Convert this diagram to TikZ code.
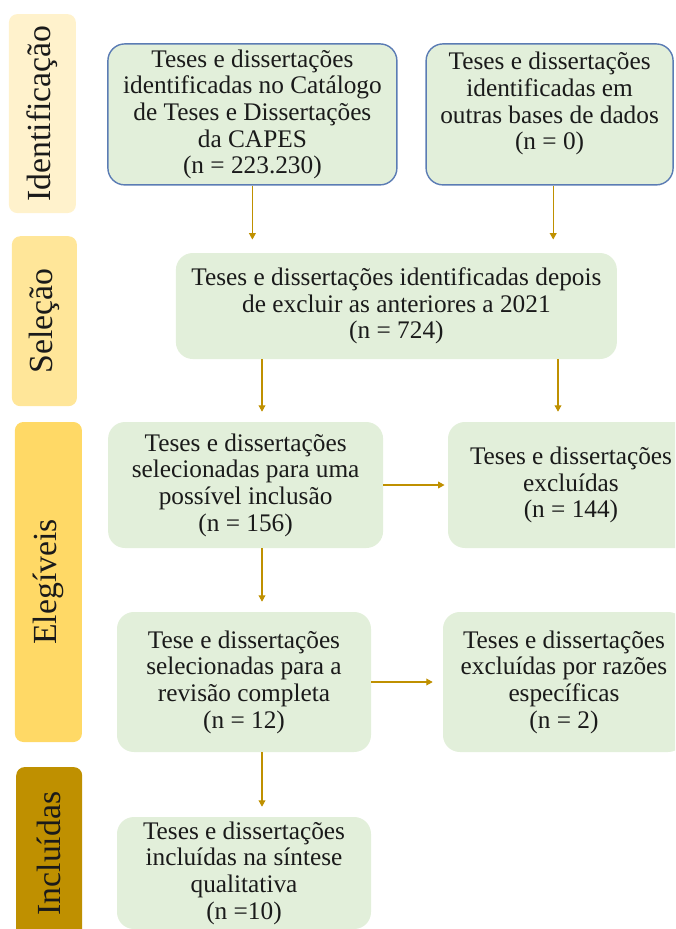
\documentclass[tikz,border=0pt]{standalone}
\usepackage{fontspec}
\setmainfont{Liberation Serif}
\usepackage{xcolor}
\usetikzlibrary{arrows.meta,calc,positioning}
\definecolor{BoxGreen}{HTML}{E2EFDA}
\definecolor{BoxBlue}{HTML}{5B7CB4}
\definecolor{ArrowGold}{HTML}{BF9000}
\definecolor{StageA}{HTML}{FFF2CC}
\definecolor{StageB}{HTML}{FFE699}
\definecolor{StageC}{HTML}{FFD966}
\definecolor{StageD}{HTML}{BF9000}
\definecolor{Ink}{HTML}{1A1A1A}

\begin{document}
\begin{tikzpicture}[
  stage/.style={rounded corners=6pt,rotate=90,inner sep=0pt,text=Ink,font=\fontsize{24}{26}\selectfont},
  box/.style={fill=BoxGreen,rounded corners=12pt,inner sep=0pt,align=center,text=Ink,font=\fontsize{18}{19}\selectfont},
  src/.style={box,draw=BoxBlue,line width=1pt},
  arr/.style={-{Triangle[length=1.6mm,width=1.7mm]},line width=0.8pt,draw=ArrowGold,shorten >=0.25cm}
]
\clip (0,0) rectangle (16.875,-23.225);

\node[stage,fill=StageA,minimum width=4.975cm,minimum height=1.675cm] (sid) at (1.06,-2.84) {Identificação};
\node[stage,fill=StageB,minimum width=4.25cm,minimum height=1.625cm] (ssel) at (1.11,-8.03) {Seleção};
\node[stage,fill=StageC,minimum width=8.0cm,minimum height=1.675cm] (seleg) at (1.21,-14.55) {Elegíveis};
\node[stage,fill=StageD,minimum width=4.325cm,minimum height=1.65cm] (sinc) at (1.23,-21.34) {Incluídas};

\node[src,minimum width=7.225cm,minimum height=3.525cm] (capes) at (6.31,-2.86) {Teses e dissertações\\identificadas no Catálogo\\de Teses e Dissertações\\da CAPES\\(n = 223.230)};
\node[src,minimum width=6.175cm,minimum height=3.525cm] (outras) at (13.74,-2.86) {Teses e dissertações\\identificadas em\\outras bases de dados\\(n = 0)\\\mbox{}};

\node[box,minimum width=11.025cm,minimum height=2.65cm] (selecao) at (9.91,-7.65) {Teses e dissertações identificadas depois\\de excluir as anteriores a 2021\\(n = 724)};

\node[box,minimum width=6.875cm,minimum height=3.15cm] (possivel) at (6.14,-12.125) {Teses e dissertações\\selecionadas para uma\\possível inclusão\\(n = 156)};
\node[box,minimum width=6.15cm,minimum height=3.15cm] (excl) at (14.275,-12.125) {Teses e dissertações\\excluídas\\(n = 144)};

\node[box,minimum width=6.35cm,minimum height=3.5cm] (revisao) at (6.1,-17.05) {Tese e dissertações\\selecionadas para a\\revisão completa\\(n = 12)};
\node[box,minimum width=6.05cm,minimum height=3.5cm] (razoes) at (14.1,-17.05) {Teses e dissertações\\excluídas por razões\\específicas\\(n = 2)};

\node[box,minimum width=6.35cm,minimum height=2.8cm] (sintese) at (6.1,-21.825) {Teses e dissertações\\incluídas na síntese\\qualitativa\\(n =10)};

\coordinate (spine) at (6.55,0);

\draw[arr,shorten >=0.33cm] (capes.south) -- (capes.south |- selecao.north);
\draw[arr,shorten >=0.33cm] ([xshift=0.09cm]outras.south) -- ([xshift=0.09cm]outras.south |- selecao.north);
\draw[arr] (selecao.south -| spine) -- (possivel.north -| spine);
\draw[arr] ([xshift=-0.325cm]excl.north |- selecao.south) -- ([xshift=-0.325cm]excl.north);
\draw[arr,shorten >=0.08cm] (possivel.east) -- (possivel.east -| excl.west);
\draw[arr] (possivel.south -| spine) -- (revisao.north -| spine);
\draw[arr] (revisao.east) -- (revisao.east -| razoes.west);
\draw[arr] (revisao.south -| spine) -- (sintese.north -| spine);
\end{tikzpicture}
\end{document}
